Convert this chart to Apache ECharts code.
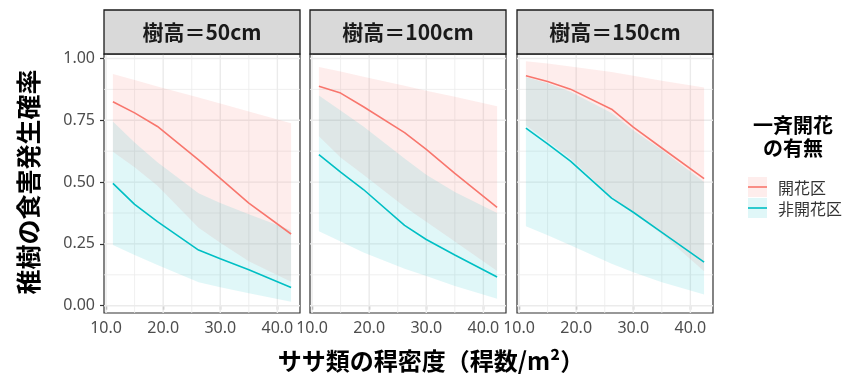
<!DOCTYPE html>
<html>
<head>
<meta charset="utf-8">
<script src="https://cdn.jsdelivr.net/npm/echarts@6/dist/echarts.min.js"></script>
<style>
  html, body { margin: 0; padding: 0; background: #ffffff; }
  #chart { width: 854px; height: 379px; }
</style>
</head>
<body>
<div id="chart"></div>
<script>
// Bamboo-grass culm density (culms / m2) at which predictions are evaluated
const density = [11.2, 15.0, 19.0, 26.2, 30.0, 35.0, 42.4];

// Facet labels (sapling height)
const panelTitles = ['樹高＝50cm', '樹高＝100cm', '樹高＝150cm'];
const groupNames = ['開花区', '非開花区'];

// Height 50 cm
const openFit50   = [0.825, 0.780, 0.725, 0.590, 0.515, 0.415, 0.290];
const openLow50   = [0.623, 0.560, 0.485, 0.315, 0.255, 0.180, 0.097];
const openHigh50  = [0.937, 0.913, 0.887, 0.842, 0.818, 0.786, 0.738];
const nonFit50    = [0.495, 0.410, 0.340, 0.225, 0.190, 0.145, 0.074];
const nonLow50    = [0.246, 0.205, 0.165, 0.095, 0.075, 0.050, 0.016];
const nonHigh50   = [0.745, 0.660, 0.580, 0.455, 0.415, 0.370, 0.305];

// Height 100 cm
const openFit100  = [0.888, 0.860, 0.805, 0.700, 0.632, 0.535, 0.398];
const openLow100  = [0.685, 0.600, 0.530, 0.400, 0.340, 0.260, 0.140];
const openHigh100 = [0.966, 0.947, 0.926, 0.890, 0.870, 0.845, 0.807];
const nonFit100   = [0.611, 0.540, 0.470, 0.325, 0.268, 0.205, 0.116];
const nonLow100   = [0.301, 0.260, 0.215, 0.150, 0.120, 0.080, 0.028];
const nonHigh100  = [0.850, 0.790, 0.725, 0.595, 0.530, 0.460, 0.375];

// Height 150 cm
const openFit150  = [0.930, 0.907, 0.876, 0.795, 0.722, 0.638, 0.514];
const openLow150  = [0.730, 0.665, 0.595, 0.440, 0.375, 0.290, 0.139];
const openHigh150 = [0.989, 0.980, 0.968, 0.945, 0.930, 0.910, 0.883];
const nonFit150   = [0.718, 0.655, 0.585, 0.435, 0.378, 0.297, 0.176];
const nonLow150   = [0.321, 0.285, 0.245, 0.170, 0.135, 0.095, 0.045];
const nonHigh150  = [0.925, 0.900, 0.865, 0.780, 0.710, 0.630, 0.500];

// Axis ticks
const xTicks = [10, 20, 30, 40];
const xMinor = [15, 25, 35];
const yTicks = [0, 0.25, 0.5, 0.75, 1.0];
const yMinor = [0.125, 0.375, 0.625, 0.875];

const panels = [
  { open: [openFit50, openLow50, openHigh50],   non: [nonFit50, nonLow50, nonHigh50] },
  { open: [openFit100, openLow100, openHigh100], non: [nonFit100, nonLow100, nonHigh100] },
  { open: [openFit150, openLow150, openHigh150], non: [nonFit150, nonLow150, nonHigh150] }
];

// ---- layout & style ----
const GRID_LEFTS = [104, 310, 517];
const GRID_TOP = 54, GRID_W = 196, GRID_H = 259;
const X_MIN = 9.64, X_MAX = 43.96;
const Y_MIN = -0.0295, Y_MAX = 1.0182;
const RED = '#F8766D', CYAN = '#00BFC4';
const RED_FILL = 'rgba(248,118,109,0.13)', CYAN_FILL = 'rgba(0,191,196,0.12)';
const CJK = '"Noto Sans CJK JP", "Noto Sans", sans-serif';
const TICK_FONT = '"Noto Sans", "DejaVu Sans", sans-serif';

function gridSeries(gi) {
  return {
    type: 'custom', xAxisIndex: gi, yAxisIndex: gi, z: 1, silent: true,
    data: [[X_MIN, Y_MIN]],
    renderItem: function (params, api) {
      const cs = params.coordSys;
      const kids = [];
      const vLine = (v, w) => {
        const x = api.coord([v, 0])[0];
        kids.push({ type: 'line', shape: { x1: x, y1: cs.y, x2: x, y2: cs.y + cs.height },
          style: { stroke: '#EBEBEB', lineWidth: w } });
      };
      const hLine = (v, w) => {
        const y = api.coord([X_MIN, v])[1];
        kids.push({ type: 'line', shape: { x1: cs.x, y1: y, x2: cs.x + cs.width, y2: y },
          style: { stroke: '#EBEBEB', lineWidth: w } });
      };
      xMinor.forEach(v => vLine(v, 0.8));
      yMinor.forEach(v => hLine(v, 0.8));
      xTicks.forEach(v => vLine(v, 1.4));
      yTicks.forEach(v => hLine(v, 1.4));
      return { type: 'group', children: kids };
    }
  };
}

function ribbonSeries(gi, name, low, high, fill) {
  return {
    type: 'custom', name: name, xAxisIndex: gi, yAxisIndex: gi, z: 2, silent: true,
    data: density.map((x, i) => [x, low[i], high[i]]),
    encode: { x: 0, y: [1, 2] },
    renderItem: function (params, api) {
      if (params.dataIndex !== 0) return null;
      const upper = density.map((x, i) => api.coord([x, high[i]]));
      const lower = density.map((x, i) => api.coord([x, low[i]])).reverse();
      return { type: 'polygon', shape: { points: upper.concat(lower) }, style: { fill: fill } };
    }
  };
}

function lineSeries(gi, name, fit, color) {
  return {
    type: 'line', name: name, xAxisIndex: gi, yAxisIndex: gi, z: 3,
    data: density.map((x, i) => [x, fit[i]]),
    showSymbol: false, symbol: 'none', silent: true,
    lineStyle: { color: color, width: 1.6 }
  };
}

const grids = [], xAxes = [], yAxes = [], series = [], graphics = [];

panels.forEach((p, gi) => {
  grids.push({ left: GRID_LEFTS[gi], top: GRID_TOP, width: GRID_W, height: GRID_H,
    show: true, backgroundColor: '#ffffff', borderColor: '#333333', borderWidth: 1.2 });
  xAxes.push({
    type: 'value', gridIndex: gi, min: X_MIN, max: X_MAX,
    axisLine: { show: false },
    axisTick: { show: true, customValues: xTicks, length: 4, lineStyle: { color: '#333333', width: 1.2 } },
    axisLabel: { customValues: xTicks, formatter: v => v.toFixed(1), color: '#4D4D4D',
      fontSize: 16, fontFamily: TICK_FONT, margin: 7 },
    splitLine: { show: false }
  });
  yAxes.push({
    type: 'value', gridIndex: gi, min: Y_MIN, max: Y_MAX,
    axisLine: { show: false },
    axisTick: { show: gi === 0, customValues: yTicks, length: 4, lineStyle: { color: '#333333', width: 1.2 } },
    axisLabel: { show: gi === 0, customValues: yTicks, formatter: v => v.toFixed(2), color: '#4D4D4D',
      fontSize: 16, fontFamily: TICK_FONT, margin: 9 },
    splitLine: { show: false }
  });
  series.push(gridSeries(gi));
  series.push(ribbonSeries(gi, groupNames[0], p.open[1], p.open[2], RED_FILL));
  series.push(ribbonSeries(gi, groupNames[1], p.non[1], p.non[2], CYAN_FILL));
  series.push(lineSeries(gi, groupNames[0], p.open[0], RED));
  series.push(lineSeries(gi, groupNames[1], p.non[0], CYAN));

  // facet strip
  graphics.push({ type: 'rect', shape: { x: GRID_LEFTS[gi], y: 10, width: GRID_W, height: GRID_TOP - 10 },
    style: { fill: '#D9D9D9', stroke: '#1A1A1A', lineWidth: 1.3 }, z: 10 });
  graphics.push({ type: 'text', x: GRID_LEFTS[gi] + GRID_W / 2, y: 32.5, z: 11,
    style: { text: panelTitles[gi], fill: '#1A1A1A', font: 'bold 21px ' + CJK,
      textAlign: 'center', textVerticalAlign: 'middle' } });
});

// axis titles
graphics.push({ type: 'text', x: 431, y: 361,
  style: { text: 'ササ類の稈密度（稈数/m²）', fill: '#000000', font: 'bold 24px ' + CJK,
    textAlign: 'center', textVerticalAlign: 'middle' } });
graphics.push({ type: 'text', x: 28, y: 182, rotation: Math.PI / 2,
  style: { text: '稚樹の食害発生確率', fill: '#000000', font: 'bold 25px ' + CJK,
    textAlign: 'center', textVerticalAlign: 'middle' } });

// legend
graphics.push({ type: 'text', x: 793, y: 137,
  style: { text: '一斉開花\nの有無', fill: '#000000', font: 'bold 20px ' + CJK, lineHeight: 23,
    textAlign: 'center', textVerticalAlign: 'middle' } });
[[RED_FILL, RED, 177], [CYAN_FILL, CYAN, 198]].forEach((k, i) => {
  graphics.push({ type: 'rect', shape: { x: 748, y: k[2], width: 19, height: 20 }, style: { fill: k[0] } });
  graphics.push({ type: 'line', shape: { x1: 748, y1: k[2] + 10, x2: 767, y2: k[2] + 10 },
    style: { stroke: k[1], lineWidth: 1.6 } });
  graphics.push({ type: 'text', x: 778, y: k[2] + 11,
    style: { text: groupNames[i], fill: '#333333', font: '16px ' + CJK, textVerticalAlign: 'middle' } });
});

const chart = echarts.init(document.getElementById('chart'), null, { renderer: 'canvas' });
chart.setOption({
  animation: false,
  backgroundColor: '#ffffff',
  grid: grids, xAxis: xAxes, yAxis: yAxes,
  series: series,
  graphic: graphics
});
</script>
</body>
</html>
